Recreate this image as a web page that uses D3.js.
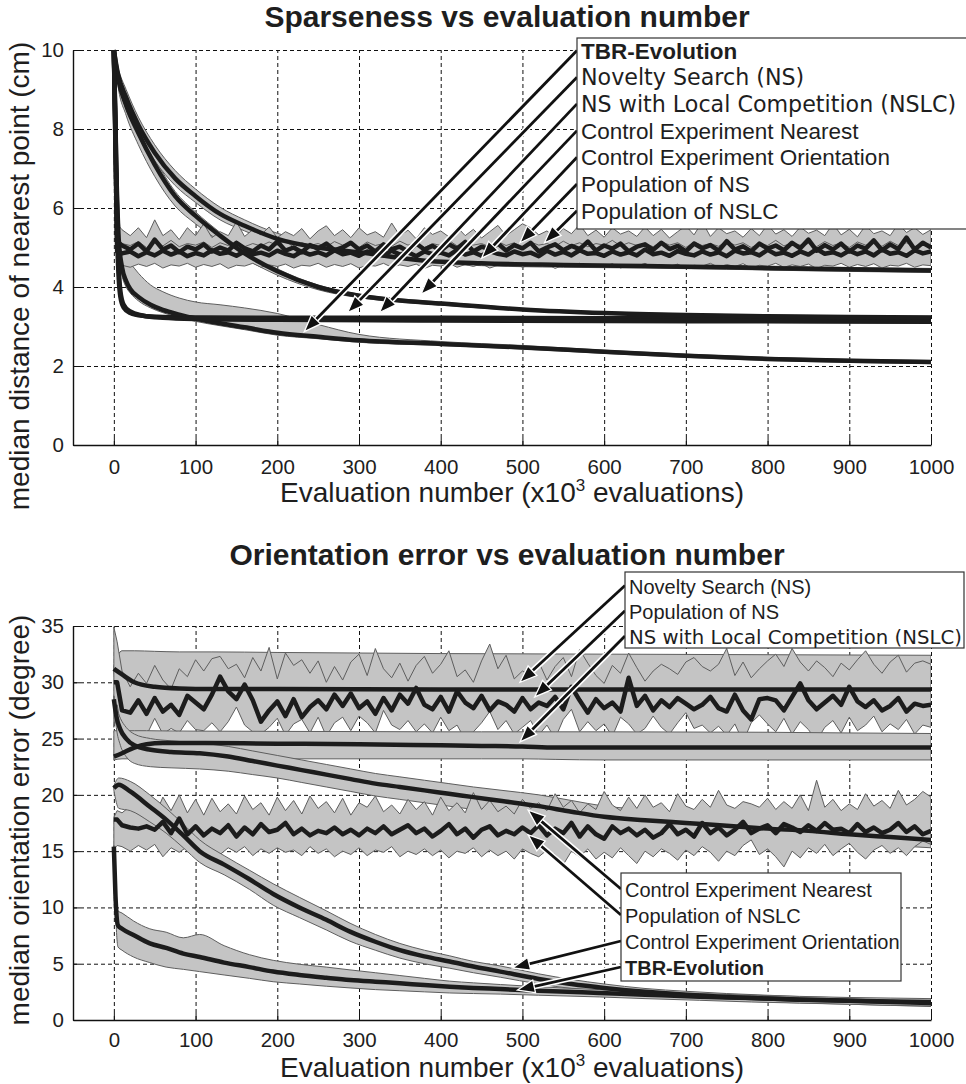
<!DOCTYPE html>
<html>
<head>
<meta charset="utf-8">
<title>Sparseness and orientation error vs evaluation number</title>
<script src="https://cdn.jsdelivr.net/npm/d3@7/dist/d3.min.js"></script>
<style>
  body { margin: 0; background: #fff; }
  svg { display: block; font-family: "Liberation Sans", Arial, Helvetica, sans-serif; }
</style>
</head>
<body>
<svg id="chart" width="966" height="1084"></svg>
<script>
var evalTicks = [0, 100, 200, 300, 400, 500, 600, 700, 800, 900, 1000];
var sparseTicks = [0, 2, 4, 6, 8, 10];
var orientTicks = [0, 5, 10, 15, 20, 25, 30, 35];

// noisy series are sampled every 10k evaluations (first sample at 4k)
var noisyX = [0, 4].concat(d3.range(10, 1001, 10));

// ---------- Sparseness (median distance of nearest point, cm) ----------
var flatSparseX = [0, 2, 4, 6, 8, 12, 20, 35, 60, 100, 200, 400, 600, 800, 1000];
var nsSparse = [10, 7.8, 5.3, 4.2, 3.75, 3.48, 3.34, 3.27, 3.24, 3.23, 3.22, 3.22, 3.21, 3.21, 3.2];
var nsSparseHi = [10, 7.9, 5.4, 4.3, 3.8, 3.52, 3.37, 3.3, 3.27, 3.26, 3.25, 3.25, 3.25, 3.25, 3.25];
var nsSparseLo = [10, 7.7, 5.2, 4.1, 3.7, 3.44, 3.31, 3.24, 3.21, 3.2, 3.19, 3.19, 3.18, 3.17, 3.16];
var nslcSparse = [10, 8.2, 5.8, 4.5, 3.9, 3.55, 3.38, 3.28, 3.22, 3.19, 3.17, 3.15, 3.14, 3.13, 3.12];
var nslcSparseHi = [10, 8.3, 5.9, 4.6, 3.95, 3.6, 3.41, 3.31, 3.25, 3.22, 3.2, 3.18, 3.17, 3.16, 3.15];
var nslcSparseLo = [10, 8.1, 5.7, 4.4, 3.85, 3.5, 3.35, 3.25, 3.19, 3.16, 3.14, 3.12, 3.11, 3.1, 3.08];

var tbrSparseX = [0, 3, 6, 10, 15, 20, 30, 45, 60, 80, 100, 130, 160, 200, 250, 300, 400, 500, 600, 700, 800, 900, 1000];
var tbrSparse = [10, 7.0, 5.2, 4.5, 4.15, 3.95, 3.75, 3.55, 3.42, 3.3, 3.2, 3.08, 2.98, 2.84, 2.74, 2.65, 2.56, 2.47, 2.36, 2.26, 2.18, 2.13, 2.1];
var tbrSparseHi = [10, 8.0, 6.0, 5.0, 4.7, 4.6, 4.35, 4.05, 3.88, 3.72, 3.62, 3.55, 3.47, 3.33, 3.05, 2.8, 2.62, 2.52, 2.4, 2.3, 2.22, 2.17, 2.14];
var tbrSparseLo = [10, 6.5, 4.9, 4.3, 4.0, 3.85, 3.65, 3.47, 3.35, 3.23, 3.13, 3.02, 2.92, 2.78, 2.69, 2.6, 2.52, 2.43, 2.32, 2.22, 2.14, 2.09, 2.06];

var ceoSparseX = [0, 5, 15, 30, 50, 75, 100, 130, 160, 200, 250, 300, 375, 450, 550, 650, 750, 850, 1000];
var ceoSparse = [10, 9.4, 8.8, 8.1, 7.4, 6.75, 6.3, 5.85, 5.55, 5.22, 5.0, 4.88, 4.68, 4.6, 4.56, 4.53, 4.5, 4.46, 4.42];
var ceoSparseHi = [10, 9.55, 9.0, 8.3, 7.6, 6.95, 6.48, 6.02, 5.7, 5.36, 5.12, 4.98, 4.76, 4.67, 4.62, 4.58, 4.55, 4.51, 4.47];
var ceoSparseLo = [10, 9.25, 8.6, 7.9, 7.2, 6.57, 6.14, 5.7, 5.42, 5.1, 4.9, 4.8, 4.62, 4.54, 4.5, 4.48, 4.45, 4.41, 4.37];

var cenSparseX = [0, 5, 15, 30, 50, 75, 100, 130, 160, 200, 250, 300, 350, 400, 500, 600, 700, 800, 900, 1000];
var cenSparse = [10, 9.3, 8.6, 7.9, 7.1, 6.3, 5.8, 5.3, 4.85, 4.4, 4.0, 3.78, 3.66, 3.58, 3.43, 3.34, 3.29, 3.26, 3.24, 3.23];
var cenSparseHi = [10, 9.4, 8.75, 8.05, 7.25, 6.42, 5.9, 5.38, 4.92, 4.46, 4.05, 3.82, 3.7, 3.62, 3.46, 3.37, 3.32, 3.29, 3.27, 3.26];
var cenSparseLo = [10, 9.1, 8.35, 7.6, 6.8, 6.05, 5.6, 5.15, 4.73, 4.3, 3.93, 3.73, 3.62, 3.54, 3.4, 3.31, 3.26, 3.23, 3.21, 3.2];

var popNsSparse = [10, 5.15,
  5.05, 4.95, 5.10, 4.90, 5.20, 4.95, 5.05, 4.88, 5.02, 4.95,
  5.08, 4.90, 5.00, 4.92, 5.12, 4.98, 4.90, 5.05, 4.95, 5.15,
  4.92, 5.00, 4.88, 5.06, 4.97, 5.10, 4.93, 5.00, 5.12, 4.95,
  5.05, 4.90, 5.08, 4.96, 5.02, 4.90, 5.10, 4.95, 5.04, 4.92,
  5.08, 4.97, 5.14, 4.90, 5.02, 4.95, 5.10, 4.92, 5.06, 4.98,
  5.12, 4.90, 5.00, 5.08, 4.93, 5.04, 4.96, 5.15, 4.92, 5.05,
  4.97, 5.10, 4.90, 5.02, 5.08, 4.94, 5.12, 4.96, 5.04, 4.90,
  5.10, 4.98, 5.06, 4.92, 5.16, 4.95, 5.03, 4.90, 5.10, 4.97,
  5.05, 4.93, 5.12, 4.98, 5.20, 4.92, 5.06, 4.95, 5.10, 4.90,
  5.05, 4.97, 5.18, 4.93, 5.08, 4.96, 5.25, 4.95, 5.12, 5.00];
var popNsSparseHi = [10, 5.60,
  5.45, 5.30, 5.50, 5.25, 5.70, 5.30, 5.45, 5.20, 5.50, 5.30,
  5.60, 5.25, 5.40, 5.30, 5.65, 5.28, 5.45, 5.32, 5.52, 5.25,
  5.40, 5.30, 5.48, 5.22, 5.42, 5.55, 5.30, 5.45, 5.25, 5.50,
  5.32, 5.40, 5.26, 5.62, 5.30, 5.44, 5.22, 5.50, 5.33, 5.42,
  5.27, 5.52, 5.30, 5.46, 5.24, 5.40, 5.56, 5.30, 5.45, 5.60,
  5.50, 5.32, 5.42, 5.25, 5.48, 5.35, 5.58, 5.30, 5.44, 5.26,
  5.50, 5.34, 5.42, 5.28, 5.52, 5.30, 5.46, 5.24, 5.40, 5.55,
  5.32, 5.65, 5.28, 5.50, 5.35, 5.42, 5.26, 5.48, 5.30, 5.58,
  5.34, 5.45, 5.28, 5.52, 5.36, 5.44, 5.30, 5.60, 5.32, 5.46,
  5.27, 5.56, 5.35, 5.42, 5.30, 5.60, 5.38, 5.50, 5.33, 5.45];
var popNsSparseLo = [10, 4.75,
  4.70, 4.62, 4.75, 4.65, 4.78, 4.60, 4.72, 4.66, 4.76, 4.62,
  4.70, 4.64, 4.74, 4.60, 4.72, 4.67, 4.78, 4.63, 4.70, 4.65,
  4.75, 4.60, 4.72, 4.66, 4.76, 4.62, 4.70, 4.64, 4.74, 4.61,
  4.72, 4.67, 4.77, 4.63, 4.70, 4.65, 4.75, 4.60, 4.72, 4.66,
  4.76, 4.62, 4.70, 4.64, 4.74, 4.61, 4.72, 4.67, 4.77, 4.63,
  4.70, 4.65, 4.75, 4.60, 4.72, 4.66, 4.76, 4.62, 4.70, 4.64,
  4.74, 4.61, 4.72, 4.67, 4.77, 4.63, 4.70, 4.65, 4.75, 4.60,
  4.72, 4.66, 4.76, 4.62, 4.70, 4.64, 4.74, 4.61, 4.72, 4.67,
  4.77, 4.63, 4.70, 4.65, 4.75, 4.60, 4.72, 4.66, 4.76, 4.62,
  4.70, 4.64, 4.74, 4.61, 4.72, 4.67, 4.77, 4.63, 4.70, 4.68];

var popNslcSparse = [10, 4.90,
  4.85, 4.90, 4.78, 4.88, 4.80, 4.92, 4.82, 4.90, 4.78, 4.86,
  4.80, 4.93, 4.84, 4.88, 4.79, 4.90, 4.83, 4.87, 4.80, 4.92,
  4.84, 4.78, 4.90, 4.82, 4.88, 4.80, 4.93, 4.83, 4.87, 4.79,
  4.90, 4.84, 4.80, 4.92, 4.82, 4.88, 4.78, 4.90, 4.83, 4.87,
  4.80, 4.94, 4.82, 4.88, 4.79, 4.91, 4.84, 4.80, 4.90, 4.83,
  4.87, 4.78, 4.92, 4.82, 4.89, 4.80, 4.93, 4.84, 4.86, 4.79,
  4.90, 4.82, 4.88, 4.80, 4.95, 4.83, 4.87, 4.79, 4.91, 4.84,
  4.80, 4.90, 4.82, 4.88, 4.78, 4.92, 4.85, 4.88, 4.80, 4.94,
  4.83, 4.87, 4.79, 4.90, 4.82, 4.96, 4.84, 4.88, 4.80, 4.92,
  4.83, 4.90, 4.80, 4.95, 4.84, 4.88, 4.79, 4.93, 4.85, 4.90];
var popNslcSparseHi = [10, 5.20,
  5.10, 5.05, 5.15, 5.00, 5.12, 5.04, 5.18, 5.02, 5.10, 5.06,
  5.14, 5.00, 5.12, 5.05, 5.16, 5.02, 5.10, 5.04, 5.14, 5.06,
  5.18, 5.00, 5.12, 5.05, 5.10, 5.02, 5.15, 5.06, 5.12, 5.00,
  5.14, 5.05, 5.10, 5.03, 5.16, 5.06, 5.12, 5.00, 5.10, 5.05,
  5.18, 5.04, 5.12, 5.06, 5.10, 5.02, 5.15, 5.05, 5.12, 5.00,
  5.14, 5.06, 5.10, 5.03, 5.16, 5.05, 5.12, 5.02, 5.10, 5.06,
  5.18, 5.04, 5.12, 5.05, 5.10, 5.02, 5.15, 5.06, 5.12, 5.00,
  5.14, 5.05, 5.10, 5.03, 5.16, 5.06, 5.12, 5.00, 5.10, 5.05,
  5.18, 5.04, 5.12, 5.06, 5.10, 5.02, 5.15, 5.05, 5.12, 5.00,
  5.14, 5.06, 5.10, 5.03, 5.16, 5.05, 5.12, 5.02, 5.10, 5.08];
var popNslcSparseLo = [10, 4.60,
  4.55, 4.50, 4.58, 4.52, 4.60, 4.48, 4.56, 4.53, 4.60, 4.50,
  4.57, 4.52, 4.59, 4.47, 4.55, 4.53, 4.60, 4.50, 4.56, 4.52,
  4.58, 4.48, 4.55, 4.53, 4.60, 4.50, 4.57, 4.52, 4.59, 4.48,
  4.55, 4.53, 4.60, 4.50, 4.56, 4.52, 4.58, 4.47, 4.55, 4.53,
  4.60, 4.50, 4.57, 4.52, 4.59, 4.48, 4.55, 4.53, 4.60, 4.50,
  4.56, 4.52, 4.58, 4.47, 4.55, 4.53, 4.60, 4.50, 4.57, 4.52,
  4.59, 4.48, 4.55, 4.53, 4.60, 4.50, 4.56, 4.52, 4.58, 4.47,
  4.55, 4.53, 4.60, 4.50, 4.57, 4.52, 4.59, 4.48, 4.55, 4.53,
  4.60, 4.50, 4.56, 4.52, 4.58, 4.47, 4.55, 4.53, 4.60, 4.50,
  4.57, 4.52, 4.59, 4.48, 4.55, 4.53, 4.60, 4.50, 4.56, 4.54];

// ---------- Orientation error (degree) ----------
var nsOrientX = [0, 10, 25, 50, 80, 120, 200, 400, 600, 800, 1000];
var nsOrient = [31.2, 30.7, 30.0, 29.6, 29.45, 29.4, 29.4, 29.35, 29.35, 29.35, 29.35];
var nsOrientHi = [31.5, 32.8, 32.8, 32.75, 32.7, 32.7, 32.65, 32.55, 32.5, 32.45, 32.4];
var nsOrientLo = [30.9, 28.6, 28.5, 28.5, 28.5, 28.5, 28.5, 28.5, 28.5, 28.5, 28.5];

var nslcOrientX = [0, 10, 25, 40, 60, 100, 200, 300, 400, 450, 500, 540, 600, 700, 800, 900, 1000];
var nslcOrient = [23.4, 23.7, 24.2, 24.5, 24.6, 24.6, 24.55, 24.5, 24.4, 24.35, 24.3, 24.2, 24.2, 24.2, 24.2, 24.2, 24.2];
var nslcOrientHi = [25.7, 25.7, 25.7, 25.7, 25.68, 25.66, 25.64, 25.62, 25.6, 25.6, 25.6, 25.6, 25.6, 25.58, 25.56, 25.5, 25.45];
var nslcOrientLo = [23.1, 23.2, 23.2, 23.2, 23.2, 23.2, 23.2, 23.2, 23.2, 23.2, 23.2, 23.15, 23.1, 23.1, 23.1, 23.1, 23.1];

var cenOrientX = [0, 3, 8, 15, 25, 45, 70, 105, 140, 170, 200, 230, 260, 290, 320, 350, 380, 410, 440, 475, 520, 560, 600, 650, 700, 750, 800, 850, 900, 950, 1000];
var cenOrient = [28.5, 27.0, 25.8, 25.0, 24.4, 24.0, 23.8, 23.7, 23.4, 23.0, 22.6, 22.2, 21.8, 21.4, 21.0, 20.7, 20.4, 20.1, 19.8, 19.45, 19.0, 18.5, 18.05, 17.75, 17.5, 17.25, 17.0, 16.8, 16.5, 16.25, 16.0];
var cenOrientHi = [28.8, 27.8, 26.8, 26.0, 25.4, 25.0, 24.8, 24.6, 24.3, 23.9, 23.5, 23.1, 22.7, 22.3, 21.9, 21.6, 21.3, 21.0, 20.7, 20.4, 20.0, 19.5, 19.0, 18.7, 18.4, 18.1, 17.8, 17.6, 17.3, 17.0, 16.8];
var cenOrientLo = [28.2, 26.0, 24.4, 23.4, 22.8, 22.5, 22.4, 22.3, 22.1, 21.8, 21.5, 21.1, 20.7, 20.3, 19.9, 19.6, 19.3, 19.0, 18.7, 18.4, 17.9, 17.5, 17.1, 16.8, 16.6, 16.3, 16.1, 15.9, 15.7, 15.5, 15.3];

var ceoOrientX = [0, 6, 20, 44, 64, 85, 105, 135, 166, 195, 227, 260, 289, 320, 350, 380, 411, 440, 473, 520, 560, 600, 650, 700, 750, 800, 850, 900, 950, 1000];
var ceoOrient = [20.6, 20.9, 20.3, 18.95, 17.8, 16.4, 15.0, 13.8, 12.5, 11.2, 10.0, 8.9, 7.85, 6.95, 6.2, 5.65, 5.2, 4.75, 4.3, 3.65, 3.2, 2.85, 2.5, 2.25, 2.05, 1.9, 1.8, 1.7, 1.6, 1.5];
var ceoOrientHi = [20.8, 21.5, 21.2, 20.0, 18.8, 17.4, 16.0, 14.6, 13.3, 12.1, 10.9, 9.7, 8.6, 7.6, 6.8, 6.2, 5.7, 5.2, 4.8, 4.1, 3.6, 3.2, 2.8, 2.55, 2.35, 2.2, 2.05, 1.95, 1.85, 1.75];
var ceoOrientLo = [20.4, 18.8, 18.6, 17.6, 16.6, 15.3, 14.0, 12.9, 11.6, 10.2, 9.1, 8.0, 7.0, 6.2, 5.5, 5.0, 4.6, 4.2, 3.8, 3.2, 2.8, 2.5, 2.2, 1.95, 1.75, 1.6, 1.5, 1.4, 1.3, 1.2];

var tbrOrientX = [0, 2, 5, 10, 24, 44, 64, 85, 105, 135, 166, 195, 227, 260, 289, 320, 350, 380, 411, 440, 473, 520, 594, 650, 717, 780, 839, 900, 950, 1000];
var tbrOrient = [15.4, 11.0, 8.4, 8.1, 7.55, 6.8, 6.4, 5.9, 5.6, 5.1, 4.7, 4.3, 4.0, 3.75, 3.55, 3.4, 3.27, 3.1, 2.96, 2.85, 2.75, 2.6, 2.4, 2.25, 2.07, 1.95, 1.8, 1.72, 1.65, 1.6];
var tbrOrientHi = [15.5, 12.0, 9.7, 9.5, 8.8, 8.1, 7.8, 7.3, 7.6, 6.6, 5.8, 5.3, 4.95, 4.7, 4.45, 4.2, 3.95, 3.7, 3.45, 3.3, 3.15, 2.95, 2.7, 2.5, 2.35, 2.2, 2.1, 2.0, 1.95, 1.9];
var tbrOrientLo = [15.3, 10.0, 6.5, 6.2, 5.6, 5.1, 4.7, 4.5, 4.3, 4.0, 3.7, 3.4, 3.2, 3.0, 2.85, 2.7, 2.6, 2.5, 2.4, 2.35, 2.3, 2.2, 2.05, 1.9, 1.75, 1.6, 1.5, 1.4, 1.3, 1.25];

var popNsOrient = [30.0, 30.0,
  27.5, 27.3, 28.4, 27.2, 28.6, 27.4, 28.0, 27.1, 28.8, 28.2,
  27.6, 28.9, 30.5, 29.2, 28.5, 29.8, 28.4, 26.5, 27.5, 28.3,
  27.0, 28.5, 26.9, 27.8, 28.4, 27.6, 28.9, 27.9, 29.0, 27.7,
  28.3, 27.2, 28.6, 27.5, 28.9, 28.1, 29.5, 28.0, 27.6, 28.7,
  27.4, 29.2, 28.2, 27.7, 28.8, 27.5, 28.3, 28.0, 27.4, 28.6,
  27.6, 28.2, 27.9, 28.7, 27.6, 29.6, 28.4, 27.3, 28.5, 27.7,
  28.2, 27.4, 30.4, 27.9, 28.8, 27.5, 28.4, 27.8, 28.6, 28.1,
  27.6, 28.0, 28.7, 27.7, 27.4, 28.9, 27.5, 26.7, 28.5, 28.6,
  28.4, 27.5, 28.7, 29.9, 28.4, 27.6, 28.2, 28.8, 28.0, 29.6,
  28.3, 27.8, 28.4, 27.5, 27.9, 28.6, 27.4, 28.1, 27.9, 28.0];
var popNsOrientHi = [34.9, 33.6,
  31.0, 29.6, 30.8, 29.9, 31.5, 30.2, 29.4, 31.2, 30.5, 32.0,
  31.0, 32.1, 32.3, 31.2, 31.6, 30.4, 32.2, 31.0, 33.1, 30.3,
  32.6, 31.5, 32.0, 30.8, 31.9, 30.0, 31.4, 30.2, 31.8, 32.5,
  30.6, 33.0, 31.2, 30.4, 31.7, 30.1, 31.5, 32.3, 30.8, 31.6,
  32.8, 30.5, 31.1, 30.0, 31.9, 33.4, 31.2, 32.4, 30.3, 31.0,
  30.6, 31.8, 30.2, 31.4, 32.2, 30.5, 32.9, 31.7, 30.6, 29.9,
  31.5, 30.8, 32.6, 31.3, 30.1, 31.0, 31.6, 31.2, 30.7, 31.8,
  32.2, 31.4, 31.0, 31.6, 33.0, 30.6, 31.8, 30.4, 31.2, 31.9,
  32.5, 31.4, 33.0, 31.8, 31.0, 31.9, 31.3, 30.5, 31.7, 31.1,
  32.0, 32.8, 31.6, 30.8, 31.8, 32.4, 30.9, 31.7, 31.9, 31.6];
var popNsOrientLo = [26.0, 28.0,
  25.5, 25.2, 25.6, 25.3, 26.8, 25.4, 25.9, 25.5, 26.6, 25.8,
  25.7, 26.4, 25.6, 26.5, 27.8, 26.2, 25.6, 25.4, 26.0, 26.8,
  25.3, 26.3, 26.7, 25.5, 26.9, 25.2, 26.4, 26.9, 25.7, 27.0,
  26.4, 25.5, 27.5, 26.2, 25.8, 26.6, 25.6, 26.3, 25.5, 26.9,
  25.7, 26.2, 24.9, 25.6, 26.4, 27.4, 25.8, 26.6, 25.4, 26.0,
  26.6, 25.3, 26.2, 25.0, 26.7, 27.6, 25.6, 26.5, 25.7, 26.3,
  25.2, 26.9, 26.3, 25.4, 25.9, 27.0, 26.0, 25.4, 26.4, 27.3,
  25.9, 26.2, 25.5, 26.1, 25.3, 26.3, 24.7, 26.4, 27.1, 26.3,
  25.6, 26.8, 25.4, 26.5, 25.8, 24.8, 26.0, 26.6, 25.5, 26.9,
  25.7, 26.2, 27.0, 25.6, 26.3, 25.8, 26.7, 25.4, 26.2, 26.0];

var popNslcOrient = [17.8, 17.8,
  17.3, 17.1, 17.0, 17.2, 16.9, 17.6, 16.6, 17.9, 16.5, 17.2,
  16.4, 17.0, 16.6, 17.3, 16.3, 17.1, 16.5, 17.4, 16.7, 16.9,
  17.5, 16.5, 17.0, 16.4, 16.8, 16.6, 17.1, 16.5, 16.9, 16.4,
  17.0, 16.6, 17.2, 16.5, 16.9, 17.3, 16.6, 17.0, 16.3, 16.8,
  17.4, 16.5, 17.0, 16.2, 16.9, 17.2, 16.4, 16.8, 16.5, 17.1,
  16.6, 17.3, 16.4, 17.0, 16.6, 17.5, 16.3, 17.2, 16.5, 16.1,
  17.2, 16.6, 17.0, 16.4, 16.9, 16.2, 16.6, 17.4, 16.5, 16.9,
  16.3, 17.5, 16.6, 17.1, 16.4, 16.9, 17.6, 16.6, 17.0, 17.3,
  16.6, 17.4, 17.1, 16.7, 17.3, 16.8, 17.5, 16.9, 17.0, 16.6,
  17.4, 16.7, 17.1, 16.6, 16.9, 17.5, 16.7, 17.2, 16.5, 16.8];
var popNslcOrientHi = [18.0, 18.6,
  18.4, 19.0, 18.3, 19.4, 18.1, 19.8, 18.6, 20.0, 18.4, 19.6,
  18.2, 19.7, 18.5, 19.2, 18.3, 19.9, 18.7, 19.3, 18.2, 19.8,
  18.6, 19.5, 18.3, 19.9, 18.8, 19.4, 18.4, 19.7, 18.2, 19.3,
  18.9, 19.9, 18.5, 19.1, 18.3, 19.6, 18.7, 19.4, 18.2, 19.8,
  18.6, 19.3, 18.4, 20.2, 18.7, 19.5, 18.5, 19.0, 18.3, 19.6,
  18.8, 19.3, 18.6, 20.1, 18.9, 19.5, 18.4, 19.2, 18.7, 20.3,
  19.1, 18.6, 19.8, 18.8, 20.0, 18.9, 19.3, 18.5, 20.1, 19.0,
  18.7, 19.6, 18.9, 20.4, 19.1, 18.8, 19.4, 19.2, 18.9, 19.7,
  18.7, 19.4, 18.8, 20.0, 18.6, 21.3, 18.9, 19.6, 18.6, 19.2,
  18.7, 20.1, 19.0, 19.5, 18.8, 20.4, 19.1, 19.6, 20.3, 19.8];
var popNslcOrientLo = [15.2, 15.5,
  15.4, 15.0, 15.5, 15.1, 15.6, 14.5, 15.3, 14.9, 15.4, 14.8,
  15.5, 15.0, 14.7, 15.3, 14.9, 15.4, 14.6, 15.2, 14.8, 15.3,
  14.9, 15.1, 14.6, 15.4, 14.8, 15.2, 14.5, 15.0, 14.7, 15.3,
  14.6, 15.1, 14.9, 15.4, 14.5, 15.0, 14.7, 15.2, 14.6, 15.1,
  14.4, 15.0, 14.8, 15.3, 14.5, 15.1, 14.6, 15.0, 14.3, 15.2,
  14.8, 14.5, 15.1, 14.7, 13.8, 15.0, 14.5, 15.2, 14.3, 14.9,
  14.4, 15.3, 14.6, 13.9, 15.0, 14.5, 15.2, 14.8, 14.2, 15.1,
  14.6, 15.4, 14.9, 14.1, 15.0, 14.6, 15.5, 16.0, 14.7, 15.2,
  14.5, 13.6, 15.0, 14.4, 15.3, 14.8, 15.6, 14.6, 15.2, 15.7,
  14.9, 14.3, 15.1, 15.5, 14.8, 15.3, 14.6, 15.4, 15.9, 15.6];

// ---------- Legends and the points their arrows reach (data units) ----------
var sparseLegend = ["TBR-Evolution", "Novelty Search (NS)", "NS with Local Competition (NSLC)",
  "Control Experiment Nearest", "Control Experiment Orientation", "Population of NS", "Population of NSLC"];
var sparseArrowEval = [233, 286, 325, 376, 450, 497, 527];
var sparseArrowVal = [2.87, 3.35, 3.35, 3.82, 4.73, 5.12, 5.12];

var orientLegendA = ["Novelty Search (NS)", "Population of NS", "NS with Local Competition (NSLC)"];
var orientArrowEvalA = [497, 515, 497];
var orientArrowValA = [30.0, 28.7, 24.7];

var orientLegendB = ["Control Experiment Nearest", "Population of NSLC", "Control Experiment Orientation", "TBR-Evolution"];
var orientArrowEvalB = [507, 507, 488, 494];
var orientArrowValB = [18.65, 16.45, 4.62, 2.66];

var svg = d3.select("#chart");
var x = d3.scaleLinear().domain([-50, 1000]).range([73, 931]);

var BAND_FILL = "#c4c4c4",
  BAND_EDGE = "#5e5e5e",
  LINE_COLOR = "#1c1c1c",
  TEXT_COLOR = "#1e1e1e";

function series(xs, ys, hi, lo, smooth) {
  return {
    points: xs.map(function(v, i) {
      return [v, ys[i], hi[i], lo[i]];
    }),
    curve: smooth ? d3.curveMonotoneX : d3.curveLinear
  };
}

function drawPanel(cfg) {
  var y = d3
    .scaleLinear()
    .domain([0, cfg.yMax])
    .range([cfg.bottom, cfg.top]);
  var g = svg.append("g").attr("class", cfg.id);

  g.append("clipPath")
    .attr("id", cfg.id + "-clip")
    .append("rect")
    .attr("x", x(-50))
    .attr("y", cfg.top - 2)
    .attr("width", x(1000) - x(-50))
    .attr("height", cfg.bottom - cfg.top + 2);

  // dashed grid, vertical then horizontal
  var gridX = g
    .append("g")
    .attr("transform", "translate(0," + cfg.bottom + ")")
    .call(
      d3
        .axisBottom(x)
        .tickValues(evalTicks)
        .tickSize(-(cfg.bottom - cfg.top))
        .tickFormat("")
    );
  var gridY = g
    .append("g")
    .attr("transform", "translate(" + x(-50) + ",0)")
    .call(
      d3
        .axisLeft(y)
        .tickValues(cfg.yTicks.slice(1))
        .tickSize(-(x(1000) - x(-50)))
        .tickFormat("")
    );
  [gridX, gridY].forEach(function(grid) {
    grid.select(".domain").remove();
    grid
      .selectAll("line")
      .attr("stroke", "#111")
      .attr("stroke-width", 1)
      .attr("stroke-dasharray", "4,3");
  });

  // shaded bands first, then the median lines
  var data = g.append("g").attr("clip-path", "url(#" + cfg.id + "-clip)");
  data
    .selectAll("path.band")
    .data(cfg.series)
    .enter()
    .append("path")
    .attr("class", "band")
    .attr("d", function(s) {
      return d3
        .area()
        .curve(s.curve)
        .x(function(d) {
          return x(d[0]);
        })
        .y0(function(d) {
          return y(d[3]);
        })
        .y1(function(d) {
          return y(d[2]);
        })(s.points);
    })
    .attr("fill", BAND_FILL)
    .attr("stroke", BAND_EDGE)
    .attr("stroke-width", 1);

  data
    .selectAll("path.median")
    .data(cfg.series)
    .enter()
    .append("path")
    .attr("class", "median")
    .attr("d", function(s) {
      return d3
        .line()
        .curve(s.curve)
        .x(function(d) {
          return x(d[0]);
        })
        .y(function(d) {
          return y(d[1]);
        })(s.points);
    })
    .attr("fill", "none")
    .attr("stroke", LINE_COLOR)
    .attr("stroke-width", 4.5)
    .attr("stroke-linejoin", "round");

  // axes with inward ticks
  var xAxis = g
    .append("g")
    .attr("transform", "translate(0," + cfg.bottom + ")")
    .call(
      d3
        .axisBottom(x)
        .tickValues(evalTicks)
        .tickFormat(d3.format("d"))
        .tickSize(-7)
        .tickSizeOuter(0)
    );
  var yAxis = g
    .append("g")
    .attr("transform", "translate(" + x(-50) + ",0)")
    .call(
      d3
        .axisLeft(y)
        .tickValues(cfg.yTicks)
        .tickFormat(d3.format("d"))
        .tickSize(-7)
        .tickSizeOuter(0)
        .tickPadding(9)
    );
  [xAxis, yAxis].forEach(function(axis) {
    axis.attr("font-family", null).attr("font-size", null);
    axis.select(".domain").attr("stroke", "#111").attr("stroke-width", 1.4);
    axis.selectAll(".tick line").attr("stroke", "#111");
    axis
      .selectAll("text")
      .attr("fill", TEXT_COLOR)
      .style("font-size", "20.5px");
  });
  xAxis
    .selectAll("text")
    .attr("y", cfg.xTickBase)
    .attr("dy", null);

  // title and axis labels
  svg
    .append("text")
    .attr("x", 507)
    .attr("y", cfg.titleBase)
    .attr("text-anchor", "middle")
    .attr("fill", TEXT_COLOR)
    .style("font-size", "30px")
    .style("font-weight", "bold")
    .text(cfg.title);

  var xl = svg
    .append("text")
    .attr("x", 512)
    .attr("y", cfg.xLabelBase)
    .attr("text-anchor", "middle")
    .attr("fill", TEXT_COLOR)
    .style("font-size", "28px");
  xl.append("tspan").text("Evaluation number (x10");
  xl.append("tspan")
    .attr("dy", -11)
    .style("font-size", "17px")
    .text("3");
  xl.append("tspan")
    .attr("dy", 11)
    .text(" evaluations)");

  svg
    .append("text")
    .attr("transform", "translate(29," + cfg.yLabelMid + ") rotate(-90)")
    .attr("text-anchor", "middle")
    .attr("fill", TEXT_COLOR)
    .style("font-size", "28px")
    .text(cfg.yLabel);

  cfg.legends.forEach(function(lg) {
    drawLegend(lg, y);
  });
}

function drawLegend(lg, y) {
  var g = svg.append("g").attr("class", "legend");

  // arrows go under the box
  lg.labels.forEach(function(label, i) {
    var tx = lg.x,
      ty = lg.base + i * lg.step - 8;
    var hx = x(lg.arrowEval[i]),
      hy = y(lg.arrowVal[i]);
    var dx = hx - tx,
      dy = hy - ty,
      len = Math.sqrt(dx * dx + dy * dy);
    var ux = dx / len,
      uy = dy / len;
    var headLen = 17,
      headHalf = 6.5;
    var bx = hx - ux * headLen,
      by = hy - uy * headLen;

    g.append("line")
      .attr("x1", tx)
      .attr("y1", ty)
      .attr("x2", bx)
      .attr("y2", by)
      .attr("stroke", "#fff")
      .attr("stroke-width", 6);
    g.append("line")
      .attr("x1", tx)
      .attr("y1", ty)
      .attr("x2", bx + ux * 3)
      .attr("y2", by + uy * 3)
      .attr("stroke", "#111")
      .attr("stroke-width", 2.8);
    g.append("path")
      .attr(
        "d",
        "M" + hx + "," + hy +
          "L" + (bx - uy * headHalf) + "," + (by + ux * headHalf) +
          "L" + (bx + uy * headHalf) + "," + (by - ux * headHalf) + "Z"
      )
      .attr("fill", "#111")
      .attr("stroke", "#fff")
      .attr("stroke-width", 1.3)
      .attr("stroke-linejoin", "miter");
  });

  g.append("rect")
    .attr("x", lg.x)
    .attr("y", lg.y)
    .attr("width", lg.w)
    .attr("height", lg.h)
    .attr("fill", "#fff")
    .attr("stroke", "#333")
    .attr("stroke-width", 1.2);

  g.selectAll("text")
    .data(lg.labels)
    .enter()
    .append("text")
    .attr("x", lg.x + 4)
    .attr("y", function(d, i) {
      return lg.base + i * lg.step;
    })
    .attr("fill", TEXT_COLOR)
    .style("font-size", function(d) {
      return (lg.dejavu.indexOf(d) >= 0 ? lg.size - 0.3 : lg.size) + "px";
    })
    .style("font-family", function(d) {
      return lg.dejavu.indexOf(d) >= 0 ? "'DejaVu Sans', sans-serif" : null;
    })
    .style("font-weight", function(d) {
      return d === "TBR-Evolution" ? "bold" : null;
    })
    .text(function(d) {
      return d;
    });
}

drawPanel({
  id: "sparse",
  title: "Sparseness vs evaluation number",
  titleBase: 27,
  top: 50,
  bottom: 445,
  yMax: 10,
  yTicks: sparseTicks,
  xTickBase: 29,
  xLabelBase: 502,
  yLabel: "median distance of nearest point (cm)",
  yLabelMid: 276,
  series: [
    series(tbrSparseX, tbrSparse, tbrSparseHi, tbrSparseLo, true),
    series(flatSparseX, nsSparse, nsSparseHi, nsSparseLo, true),
    series(flatSparseX, nslcSparse, nslcSparseHi, nslcSparseLo, true),
    series(cenSparseX, cenSparse, cenSparseHi, cenSparseLo, true),
    series(ceoSparseX, ceoSparse, ceoSparseHi, ceoSparseLo, true),
    series(noisyX, popNsSparse, popNsSparseHi, popNsSparseLo, false),
    series(noisyX, popNslcSparse, popNslcSparseHi, popNslcSparseLo, false)
  ],
  legends: [
    {
      labels: sparseLegend,
      arrowEval: sparseArrowEval,
      arrowVal: sparseArrowVal,
      dejavu: ["Novelty Search (NS)", "NS with Local Competition (NSLC)"],
      x: 577, y: 38, w: 390, h: 191,
      base: 58.5, step: 26.7, size: 22.5
    }
  ]
});

drawPanel({
  id: "orient",
  title: "Orientation error  vs evaluation number",
  titleBase: 565,
  top: 626,
  bottom: 1020,
  yMax: 35,
  yTicks: orientTicks,
  xTickBase: 27,
  xLabelBase: 1077,
  yLabel: "median orientation error (degree)",
  yLabelMid: 820,
  series: [
    series(nsOrientX, nsOrient, nsOrientHi, nsOrientLo, true),
    series(noisyX, popNsOrient, popNsOrientHi, popNsOrientLo, false),
    series(nslcOrientX, nslcOrient, nslcOrientHi, nslcOrientLo, true),
    series(cenOrientX, cenOrient, cenOrientHi, cenOrientLo, true),
    series(noisyX, popNslcOrient, popNslcOrientHi, popNslcOrientLo, false),
    series(ceoOrientX, ceoOrient, ceoOrientHi, ceoOrientLo, true),
    series(tbrOrientX, tbrOrient, tbrOrientHi, tbrOrientLo, true)
  ],
  legends: [
    {
      labels: orientLegendA,
      arrowEval: orientArrowEvalA,
      arrowVal: orientArrowValA,
      dejavu: ["NS with Local Competition (NSLC)"],
      x: 625, y: 572, w: 339, h: 76,
      base: 593.5, step: 25.3, size: 20
    },
    {
      labels: orientLegendB,
      arrowEval: orientArrowEvalB,
      arrowVal: orientArrowValB,
      dejavu: [],
      x: 621, y: 873, w: 280, h: 108,
      base: 897, step: 26, size: 20
    }
  ]
});
</script>
</body>
</html>
